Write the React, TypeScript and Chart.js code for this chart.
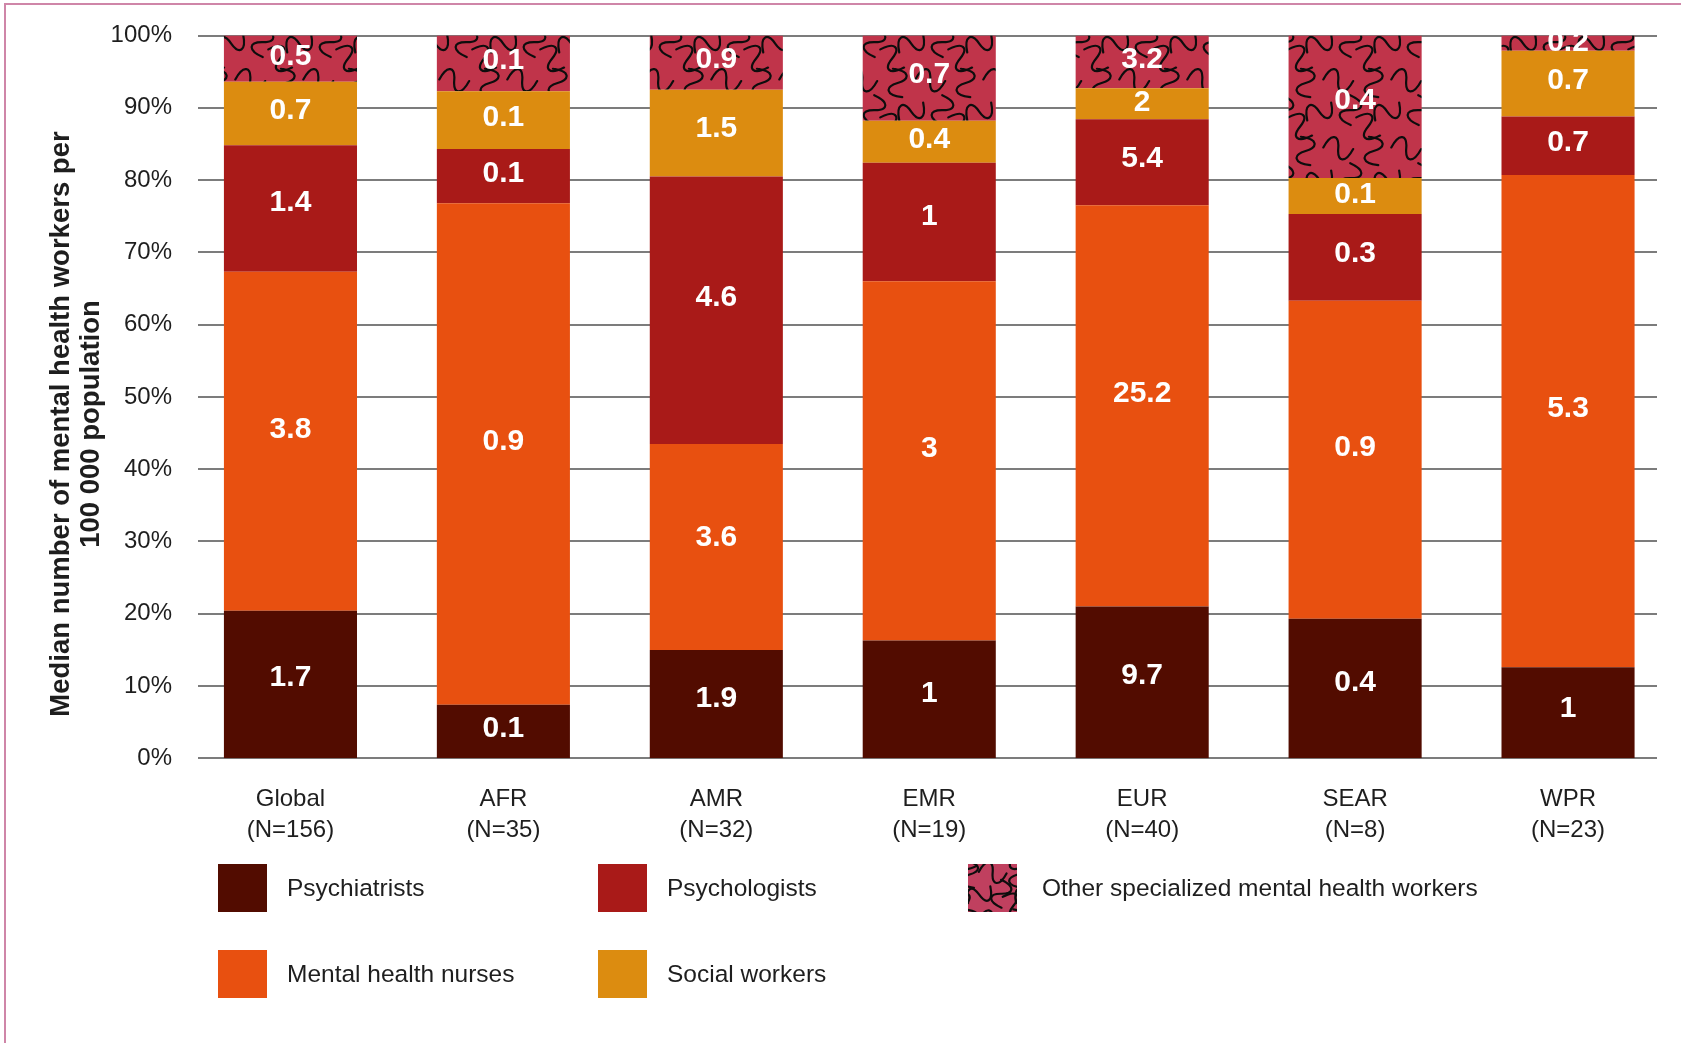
import React, { useEffect, useRef } from 'react';
import { Chart, registerables } from 'chart.js';

Chart.register(...registerables);

// ---------- data ----------
const categories: string[][] = [
  ['Global', '(N=156)'],
  ['AFR', '(N=35)'],
  ['AMR', '(N=32)'],
  ['EMR', '(N=19)'],
  ['EUR', '(N=40)'],
  ['SEAR', '(N=8)'],
  ['WPR', '(N=23)'],
];

const seriesNames = [
  'Psychiatrists',
  'Mental health nurses',
  'Psychologists',
  'Social workers',
  'Other specialized mental health workers',
];

// share of each bar (%)
const psychiatristsShare = [20.4, 7.4, 15.0, 16.3, 21.0, 19.3, 12.6];
const nursesShare = [46.9, 69.4, 28.5, 49.7, 55.5, 44.0, 68.1];
const psychologistsShare = [17.5, 7.5, 37.0, 16.4, 11.9, 12.0, 8.1];
const socialShare = [8.8, 8.0, 12.0, 5.8, 4.3, 5.0, 9.1];
const otherShare = [6.4, 7.7, 7.5, 11.8, 7.3, 19.7, 2.1];

// median number per 100 000 population (segment labels)
const psychiatristsValue = ['1.7', '0.1', '1.9', '1', '9.7', '0.4', '1'];
const nursesValue = ['3.8', '0.9', '3.6', '3', '25.2', '0.9', '5.3'];
const psychologistsValue = ['1.4', '0.1', '4.6', '1', '5.4', '0.3', '0.7'];
const socialValue = ['0.7', '0.1', '1.5', '0.4', '2', '0.1', '0.7'];
const otherValue = ['0.5', '0.1', '0.9', '0.7', '3.2', '0.4', '0.2'];

const yTickStep = 10;
const axisTitle = ['Median number of mental health workers per', '100 000 population'];

// ---------- style ----------
const COLORS = ['#520c00', '#e85010', '#a91a18', '#dc8c10', '#c0344a'];
const FONT = '"Liberation Sans", Arial, sans-serif';
const TEXT = '#1e1e1e';
const GRID = '#7c7c7c';

function makePattern(size: number, len: number, bg: string): CanvasPattern | string {
  const c = document.createElement('canvas');
  c.width = size;
  c.height = size;
  const g = c.getContext('2d');
  if (!g) return bg;
  g.fillStyle = bg;
  g.fillRect(0, 0, size, size);
  g.strokeStyle = '#0d0d0d';
  g.lineWidth = 2.2;
  g.lineCap = 'round';
  const squiggles: number[][] = [
    [0.2, 0.22, 1.5],
    [0.68, 0.18, 0.3],
    [0.86, 0.62, 1.8],
    [0.4, 0.64, -0.4],
    [0.12, 0.86, 0.9],
  ];
  for (const [fx, fy, a] of squiggles) {
    for (const dx of [-size, 0, size]) {
      for (const dy of [-size, 0, size]) {
        g.save();
        g.translate(fx * size + dx, fy * size + dy);
        g.rotate(a);
        g.beginPath();
        const l = len;
        g.moveTo(-l / 2, l / 8);
        g.bezierCurveTo(-l / 2.6, -l / 2.2, -l / 10, -l / 2.2, 0, 0);
        g.bezierCurveTo(l / 10, l / 2.2, l / 2.6, l / 2.2, l / 2, -l / 8);
        g.stroke();
        g.restore();
      }
    }
  }
  const p = g.createPattern(c, 'repeat');
  return p || bg;
}

export default function App() {
  const ref = useRef<HTMLCanvasElement | null>(null);

  useEffect(() => {
    const canvas = ref.current;
    if (!canvas) return;
    const pattern = makePattern(68, 29, COLORS[4]);
    const legendPattern = makePattern(48, 27, '#c0405f');

    const shares = [psychiatristsShare, nursesShare, psychologistsShare, socialShare, otherShare];
    const values = [psychiatristsValue, nursesValue, psychologistsValue, socialValue, otherValue];

    const datasets = seriesNames.map((name, i) => ({
      label: name,
      data: shares[i],
      backgroundColor: i === 4 ? (pattern as any) : COLORS[i],
      borderWidth: 0,
      categoryPercentage: 0.625,
      barPercentage: 1,
      stack: 's',
    }));

    const gridPlugin = {
      id: 'gridLines',
      beforeDatasetsDraw(chart: any) {
        const { ctx } = chart;
        const y = chart.scales.y;
        ctx.save();
        ctx.strokeStyle = GRID;
        ctx.lineWidth = 2;
        for (let v = 0; v <= 100; v += yTickStep) {
          const py = Math.round(y.getPixelForValue(v));
          ctx.beginPath();
          ctx.moveTo(198, py);
          ctx.lineTo(1657, py);
          ctx.stroke();
        }
        ctx.restore();
      },
    };

    const labelPlugin = {
      id: 'segLabels',
      afterDatasetsDraw(chart: any) {
        const { ctx } = chart;
        ctx.save();
        ctx.fillStyle = '#ffffff';
        ctx.font = `bold 30px ${FONT}`;
        ctx.textAlign = 'center';
        ctx.textBaseline = 'middle';
        chart.data.datasets.forEach((_d: any, di: number) => {
          const meta = chart.getDatasetMeta(di);
          meta.data.forEach((el: any, i: number) => {
            const p = el.getProps(['x', 'y', 'base'], true);
            const h = Math.abs(p.base - p.y);
            const cy = (p.y + p.base) / 2 - Math.min(12, h * 0.045);
            ctx.fillText(values[di][i], p.x, cy);
          });
        });
        ctx.restore();
      },
    };

    const decorPlugin = {
      id: 'decor',
      afterDraw(chart: any) {
        const { ctx } = chart;
        ctx.save();
        // y-axis title
        ctx.fillStyle = TEXT;
        ctx.font = `bold 27.5px ${FONT}`;
        ctx.textAlign = 'center';
        ctx.textBaseline = 'middle';
        ctx.translate(61, 424);
        ctx.rotate(-Math.PI / 2);
        ctx.fillText(axisTitle[0], 0, 0);
        ctx.fillText(axisTitle[1], 0, 30);
        ctx.restore();

        // legend
        const order = [0, 2, 4, 1, 3];
        const colX = [218, 598, 968];
        const textX = [287, 667, 1042];
        const rowY = [864, 950];
        ctx.save();
        order.forEach((di, k) => {
          const col = k < 3 ? k : k - 3;
          const row = k < 3 ? 0 : 1;
          ctx.fillStyle = di === 4 ? (legendPattern as any) : COLORS[di];
          ctx.fillRect(colX[col], rowY[row], 49, 48);
          ctx.fillStyle = TEXT;
          ctx.font = `24.5px ${FONT}`;
          ctx.textAlign = 'left';
          ctx.textBaseline = 'middle';
          ctx.fillText(chart.data.datasets[di].label, textX[col], rowY[row] + 25);
        });
        ctx.restore();
      },
    };

    const chart = new Chart(canvas, {
      type: 'bar',
      data: { labels: categories as any, datasets: datasets as any },
      options: {
        animation: false,
        responsive: false,
        maintainAspectRatio: false,
        devicePixelRatio: 1,
        layout: { padding: { top: 35.5, right: 6.5, left: 0, bottom: 0 } },
        plugins: {
          legend: { display: false },
          tooltip: { enabled: false },
          title: { display: false },
        },
        scales: {
          x: {
            stacked: true,
            offset: true,
            grid: { display: false, drawTicks: false },
            border: { display: false },
            ticks: {
              color: TEXT,
              font: { family: FONT, size: 24, lineHeight: 1.3 },
              padding: 25,
              maxRotation: 0,
              minRotation: 0,
              autoSkip: false,
            },
            afterFit: (s: any) => {
              s.height = 1043 - 758.3;
            },
          },
          y: {
            stacked: true,
            min: 0,
            max: 100,
            grid: { display: false, drawTicks: false },
            border: { display: false },
            ticks: {
              stepSize: yTickStep,
              color: TEXT,
              font: { family: FONT, size: 24 },
              padding: 12,
              callback: (v: any) => `${v}%`,
            },
            afterFit: (s: any) => {
              s.width = 184;
            },
          },
        },
      } as any,
      plugins: [gridPlugin, labelPlugin, decorPlugin],
    });

    return () => {
      chart.destroy();
    };
  }, []);

  return (
    <div
      style={{
        position: 'fixed',
        left: 0,
        top: 0,
        width: 1681,
        height: 1043,
        background: '#ffffff',
        overflow: 'hidden',
      }}
    >
      <div
        style={{
          position: 'absolute',
          left: 4,
          top: 3,
          width: 1700,
          height: 1060,
          borderTop: '2px solid #cf86a8',
          borderLeft: '2px solid #cf86a8',
        }}
      />
      <canvas
        ref={ref}
        width={1681}
        height={1043}
        style={{ position: 'absolute', left: 0, top: 0, width: 1681, height: 1043 }}
      />
    </div>
  );
}
